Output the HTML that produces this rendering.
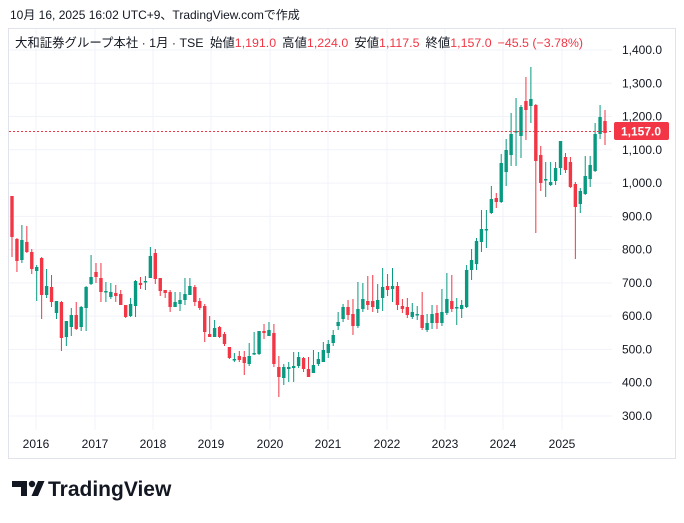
<!DOCTYPE html>
<html><head><meta charset="utf-8"><style>
body{margin:0;background:#fff;width:684px;height:518px;overflow:hidden;font-family:"Liberation Sans","Noto Sans CJK JP",sans-serif}
</style></head><body>
<svg id="s" width="684" height="518" xmlns="http://www.w3.org/2000/svg" font-family="Liberation Sans, Noto Sans CJK JP, sans-serif">
<rect width="684" height="518" fill="#fff"/>
<text x="10" y="19" font-size="12" fill="#131722">10月 16, 2025 16:02 UTC+9、TradingView.comで作成</text>
<rect x="8.5" y="28.5" width="667" height="430" fill="none" stroke="#e0e3eb"/>
<g id="grid" stroke="#f0f3fa" stroke-width="1"></g>
<text x="15" y="47" font-size="12.4" fill="#131722">大和証券グループ本社 · 1月 · TSE <tspan dx="3">始値</tspan><tspan fill="#f23645">1,191.0</tspan><tspan dx="6">高値</tspan><tspan fill="#f23645">1,224.0</tspan><tspan dx="6">安値</tspan><tspan fill="#f23645">1,117.5</tspan><tspan dx="6">終値</tspan><tspan fill="#f23645">1,157.0</tspan><tspan dx="6" fill="#f23645">−45.5 (−3.78%)</tspan></text>
<g id="ax" font-size="12" fill="#131722"></g>
<g id="c"></g>
<line x1="9" x2="612" y1="131.5" y2="131.5" stroke="#f23645" stroke-width="1" stroke-dasharray="2,2"/>
<rect x="614" y="122" width="55" height="18" rx="2" fill="#f23645"/>
<text x="641" y="135.5" font-size="12" fill="#fff" text-anchor="middle" font-weight="bold">1,157.0</text>
<g transform="translate(12,479)">
<path d="M0 2h15v15h-6v-9h-9z" fill="#131722"/><circle cx="20" cy="5" r="3.2" fill="#131722"/><path d="M26 2h6.5l-6.5 15h-6.5z" fill="#131722"/>
<text x="36" y="17" font-size="21" font-weight="bold" fill="#131722">TradingView</text></g>
</svg>
<script>
const ns="http://www.w3.org/2000/svg",g=document.getElementById('grid'),ax=document.getElementById('ax'),cg=document.getElementById('c');
function el(p,t,a){const e=document.createElementNS(ns,t);for(const k in a)e.setAttribute(k,a[k]);p.appendChild(e);return e;}
for(let p=300;p<=1400;p+=100){const y=50+(1400-p)*0.3327;el(g,'line',{x1:9,x2:612,y1:y,y2:y});
const t=el(ax,'text',{x:622,y:y+4});t.textContent=(p>=1000?'1,'+String(p-1000).padStart(3,'0'):p)+'.0';}
const yrs=[[36,2016],[95,2017],[153,2018],[211,2019],[270,2020],[328,2021],[387,2022],[445,2023],[503,2024],[562,2025]];
for(const [x,yr] of yrs){el(g,'line',{x1:x,x2:x,y1:29,y2:430});const t=el(ax,'text',{x:x,y:448,'text-anchor':'middle'});t.textContent=yr;}
const d=[[196,237,196,257],[239,261,238,272],[260,240,225,263],[242,252,226,253],[252,269,249,274],[271,267,265,301],[258,295,257,319],[295,286,269,298],[287,302,275,307],[313,301,304,319],[302,338,301,351],[337,321,326,346],[327,315,308,336],[315,329,302,330],[327,307,306,331],[308,287,286,331],[284,277,255,285],[272,277,263,283],[278,292,263,302],[291,291,282,302],[297,292,283,299],[293,296,285,302],[294,305,290,305],[305,317,305,318],[316,304,298,317],[306,281,280,317],[283,285,277,289],[281,281,276,290],[278,256,247,278],[253,279,249,284],[278,291,290,296],[290,293,290,298],[292,307,290,312],[307,302,292,305],[304,300,292,311],[300,294,278,305],[295,286,278,289],[287,302,285,306],[301,308,298,310],[306,332,304,342],[334,337,316,337],[337,328,320,337],[327,337,326,338],[334,344,332,346],[347,358,347,359],[360,359,353,362],[356,360,351,362],[357,363,351,375],[364,356,343,366],[354,353,332,355],[354,331,331,355],[331,333,324,339],[336,330,322,336],[333,364,324,367],[367,377,356,397],[378,367,364,385],[369,367,362,382],[368,366,352,382],[366,357,352,368],[358,369,357,372],[369,377,357,377],[373,365,350,373],[364,359,352,366],[362,350,342,361],[353,344,340,358],[343,335,330,346],[326,322,312,330],[319,307,304,322],[307,315,300,320],[314,326,299,335],[326,309,282,328],[309,299,283,312],[301,305,276,310],[301,307,275,312],[309,300,284,313],[298,287,268,311],[286,290,274,296],[289,286,268,302],[286,305,282,310],[306,309,299,313],[307,315,298,318],[317,312,303,319],[315,314,306,320],[315,328,292,330],[330,323,314,332],[323,314,305,329],[313,323,305,329],[323,312,289,326],[313,299,273,315],[301,309,275,312],[307,307,298,325],[309,305,300,318],[307,270,265,308],[270,260,249,280],[264,241,238,270],[242,229,210,252],[229,229,210,248],[213,199,186,214],[198,202,193,208],[202,163,154,203],[172,150,139,186],[155,134,113,166],[131,131,98,166],[136,107,105,158],[101,110,77,140],[106,99,67,123],[105,161,104,233],[155,183,146,191],[179,179,162,197],[185,182,162,186],[181,168,162,185],[168,141,141,175],[157,170,153,173],[162,187,157,188],[184,207,182,259],[204,191,188,213],[194,176,156,195],[179,165,156,187],[171,134,123,172],[134,117,105,139],[121,133,110,145]];
const n=d.length,step=(605-12)/(n-1);
d.forEach((q,i)=>{const x=12+i*step;const up=q[1]<=q[0];const col=up?'#089981':'#f23645';
el(cg,'line',{x1:x,x2:x,y1:q[2],y2:q[3],stroke:col,'stroke-width':1});
const t=Math.min(q[0],q[1]),h=Math.max(1.5,Math.abs(q[1]-q[0]));el(cg,'rect',{x:x-1.7,y:t,width:3.4,height:h,fill:col});});
</script>
</body></html>
